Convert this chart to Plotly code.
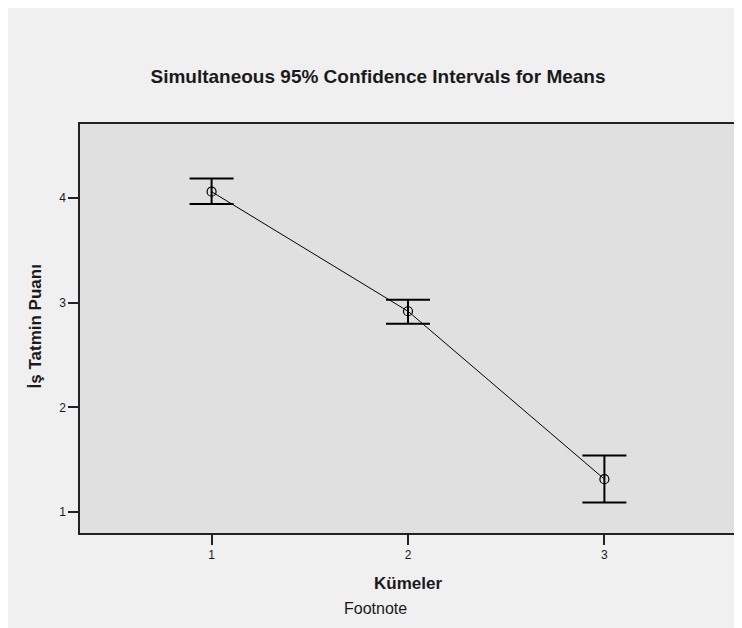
import plotly.graph_objects as go

categories = [1, 2, 3]
means = [4.063, 2.92, 1.315]
upper = [4.19, 3.03, 1.54]
lower = [3.946, 2.80, 1.092]
x_ticks = [1, 2, 3]
y_ticks = [1, 2, 3, 4]

err_plus = [u - m for u, m in zip(upper, means)]
err_minus = [m - l for m, l in zip(means, lower)]

OFF = 8  # page body margin
W, H = 742 - OFF, 628 - OFF
# plot area in page coords: x 80..736, y 124..533
L = 80 - OFF
T = 124 - OFF
R = W - (736 - OFF)
B = H - (533 - OFF)
pw, ph = W - L - R, H - T - B


def px(xp):
    return (xp - OFF - L) / pw


def py(yp):
    return (T + ph - (yp - OFF)) / ph


FONT = "Liberation Sans, Arial, sans-serif"

fig = go.Figure()
fig.add_trace(go.Scatter(
    x=categories, y=means,
    mode="lines+markers",
    line=dict(color="black", width=1),
    marker=dict(symbol="circle-open", size=9, color="black", line=dict(width=1.2, color="black")),
    error_y=dict(type="data", symmetric=False, array=err_plus, arrayminus=err_minus,
                 color="black", thickness=2, width=22),
    showlegend=False,
    hoverinfo="skip",
))

fig.update_layout(
    width=W, height=H,
    margin=dict(l=L, r=R, t=T, b=B, autoexpand=False),
    paper_bgcolor="#f0f0f0",
    plot_bgcolor="#e0e0e0",
    font=dict(family=FONT, color="#1a1a1a", size=12),
    title=dict(
        text="<b>Simultaneous 95% Confidence Intervals for Means</b>",
        x=px(378), xref="paper", xanchor="center",
        y=1 - (76 - OFF) / H, yref="container", yanchor="middle",
        font=dict(size=19, family=FONT, color="#1a1a1a"),
    ),
    xaxis=dict(
        range=[0.33, 3.67], tickvals=x_ticks, ticktext=[str(v) for v in x_ticks],
        showgrid=False, zeroline=False,
        showline=True, linecolor="#222", linewidth=1.5, mirror=True,
        ticks="outside", ticklen=10, tickwidth=1.5, tickcolor="#222",
        tickfont=dict(size=12, family=FONT, color="#1a1a1a"),
    ),
    yaxis=dict(
        range=[0.80, 4.71], tickvals=y_ticks, ticktext=[str(v) for v in y_ticks],
        showgrid=False, zeroline=False,
        showline=True, linecolor="#222", linewidth=1.5, mirror=True,
        ticks="outside", ticklen=10, tickwidth=1.5, tickcolor="#222",
        tickfont=dict(size=12, family=FONT, color="#1a1a1a"),
    ),
)

fig.add_annotation(
    text="<b>Kümeler</b>", xref="paper", yref="paper",
    x=px(408), y=py(583), xanchor="center", yanchor="middle",
    showarrow=False, font=dict(size=17, family=FONT, color="#1a1a1a"),
)
fig.add_annotation(
    text="<b>İş Tatmin Puanı</b>", xref="paper", yref="paper",
    x=px(35), y=py(326.5), xanchor="center", yanchor="middle",
    textangle=-90,
    showarrow=False, font=dict(size=17, family=FONT, color="#1a1a1a"),
)
fig.add_annotation(
    text="Footnote", xref="paper", yref="paper",
    x=px(375), y=py(608), xanchor="center", yanchor="middle",
    showarrow=False, font=dict(size=16, family=FONT, color="#1a1a1a"),
)

fig.write_html("out.html")
